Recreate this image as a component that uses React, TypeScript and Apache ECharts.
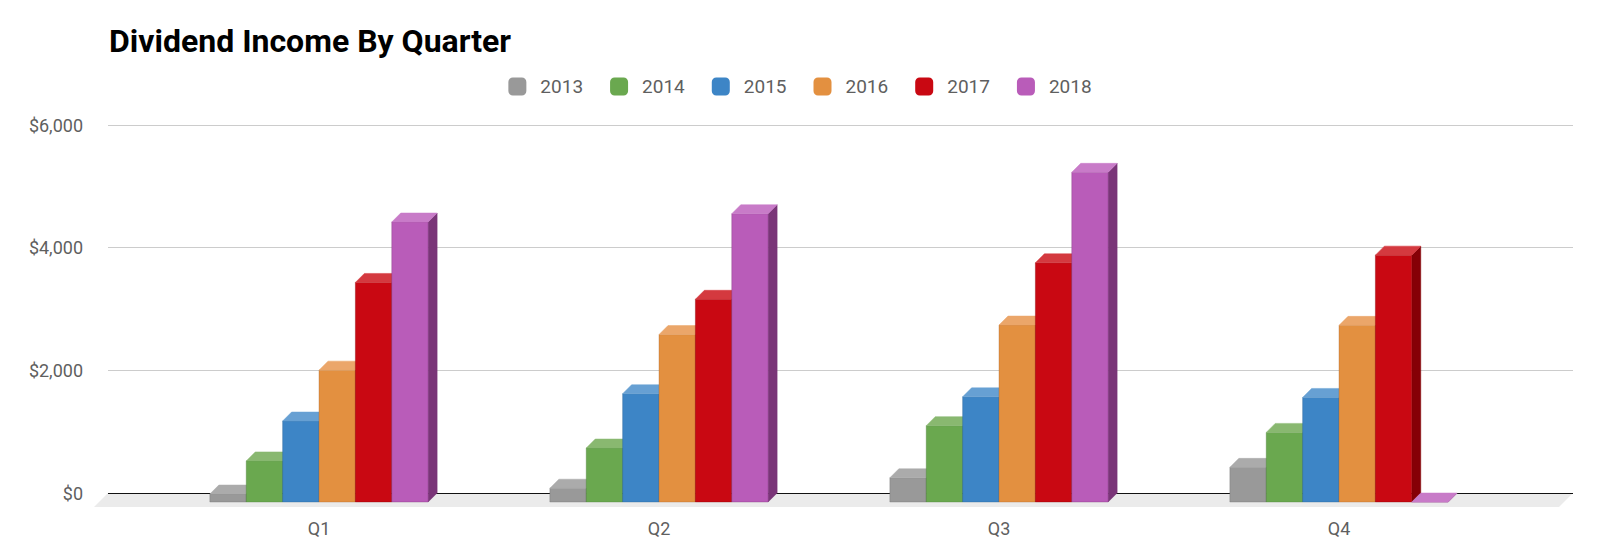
import React, { useEffect, useRef } from "react";
import * as echarts from "echarts";

const quarters = ["Q1", "Q2", "Q3", "Q4"];
const years = ["2013", "2014", "2015", "2016", "2017", "2018"];
const v2013 = [130, 225, 395, 565];
const v2014 = [670, 880, 1245, 1135];
const v2015 = [1320, 1765, 1715, 1705];
const v2016 = [2150, 2730, 2885, 2880];
const v2017 = [3580, 3305, 3900, 4025];
const v2018 = [4565, 4700, 5375, 0];
const seriesValues = [v2013, v2014, v2015, v2016, v2017, v2018];
const yTicks = [0, 2000, 4000, 6000];

const frontColors = ["#999999", "#6aa84f", "#3d85c6", "#e39040", "#c90812", "#b95cb9"];
const topColors = ["#ababab", "#89b870", "#67a0d3", "#eba66a", "#d4393f", "#c87bc8"];
const sideColors = ["#6c6c6c", "#4a7a37", "#2a5f8f", "#a8692e", "#850006", "#7a3578"];

const W = 1600;
const H = 560;
const DEPTH = 9; // bar depth offset
const FLOOR = 14; // floor depth
const BACK_LEFT = 108;
const BACK_RIGHT = 1573;
const BACK_TOP = 125;
const BACK_BOTTOM = 493;
const CAT_LEFT = 149;
const CAT_WIDTH = 1360;
const GROUP_RATIO = 0.642;
const FONT = "Roboto, 'Noto Sans', sans-serif";

export default function App() {
  const ref = useRef<HTMLDivElement>(null);

  useEffect(() => {
    if (!ref.current) return;
    const chart = echarts.init(ref.current, undefined, { renderer: "svg" });
    const n = years.length;

    const series = years.map((name, i) => ({
      type: "custom",
      name,
      xAxisIndex: 1,
      yAxisIndex: 1,
      z: 3,
      itemStyle: { color: frontColors[i] },
      data: quarters.map((_, qi) => [qi, seriesValues[i][qi]]),
      renderItem: (params: any, api: any) => {
        const ci = api.value(0);
        const v = api.value(1);
        const base = api.coord([ci, 0]);
        const topPt = api.coord([ci, v]);
        const catW = api.size([1, 0])[0];
        const bw = (catW * GROUP_RATIO) / n;
        const l = base[0] - (n / 2) * bw + i * bw;
        const r = l + bw;
        const b = base[1];
        const t = topPt[1];
        const d = DEPTH;
        return {
          type: "group",
          children: [
            {
              type: "polygon",
              shape: { points: [[r, t], [r + d, t - d], [r + d, b - d], [r, b]] },
              style: { fill: sideColors[i], stroke: sideColors[i], lineWidth: 0.5 },
            },
            {
              type: "rect",
              shape: { x: l, y: t, width: bw, height: b - t },
              style: { fill: frontColors[i], stroke: sideColors[i], lineWidth: 0.6, strokeOpacity: 0.6 },
            },
            {
              type: "polygon",
              shape: { points: [[l, t], [r, t], [r + d, t - d], [l + d, t - d]] },
              style: { fill: topColors[i], stroke: topColors[i], lineWidth: 0.5 },
            },
          ],
        };
      },
    }));

    const option: any = {
      animation: false,
      backgroundColor: "#ffffff",
      textStyle: { fontFamily: FONT },
      title: {
        text: "Dividend Income By Quarter",
        left: 104,
        top: 20,
        textStyle: { fontFamily: FONT, fontSize: 32, fontWeight: "bold", color: "#000000" },
      },
      legend: {
        data: years,
        top: 72,
        left: "center",
        icon: "roundRect",
        itemWidth: 18,
        itemHeight: 18,
        itemGap: 27,
        textStyle: { fontFamily: FONT, fontSize: 19, color: "#5f5f5f", padding: [0, 0, 0, 9] },
      },
      grid: [
        {
          left: BACK_LEFT,
          top: BACK_TOP,
          width: BACK_RIGHT - BACK_LEFT,
          height: BACK_BOTTOM - BACK_TOP,
        },
        {
          left: CAT_LEFT,
          top: BACK_TOP + DEPTH,
          width: CAT_WIDTH,
          height: BACK_BOTTOM - BACK_TOP,
        },
      ],
      xAxis: [
        { type: "value", gridIndex: 0, min: 0, max: 1, show: false },
        {
          type: "category",
          gridIndex: 1,
          data: quarters,
          axisLine: { show: false },
          axisTick: { show: false },
          axisLabel: { fontFamily: FONT, fontSize: 18, color: "#5f5f5f", margin: 17 },
          splitLine: { show: false },
        },
      ],
      yAxis: [
        {
          type: "value",
          gridIndex: 0,
          min: yTicks[0],
          max: yTicks[yTicks.length - 1],
          interval: yTicks[1] - yTicks[0],
          axisLine: { show: false },
          axisTick: { show: false },
          axisLabel: {
            fontFamily: FONT,
            fontSize: 18,
            color: "#5f5f5f",
            margin: 25,
            formatter: (val: number) => "$" + val.toLocaleString("en-US"),
          },
          splitLine: { lineStyle: { color: ["#111111", "#cccccc", "#cccccc", "#cccccc"], width: 1.2 } },
        },
        {
          type: "value",
          gridIndex: 1,
          min: yTicks[0],
          max: yTicks[yTicks.length - 1],
          show: false,
          splitLine: { show: false },
        },
      ],
      graphic: [
        {
          type: "polygon",
          z: -10,
          silent: true,
          shape: {
            points: [
              [BACK_LEFT, BACK_BOTTOM],
              [BACK_RIGHT, BACK_BOTTOM],
              [BACK_RIGHT - FLOOR, BACK_BOTTOM + FLOOR],
              [BACK_LEFT - FLOOR, BACK_BOTTOM + FLOOR],
            ],
          },
          style: { fill: "#ebebeb" },
        },
      ],
      series,
    };

    chart.setOption(option);
    return () => chart.dispose();
  }, []);

  return (
    <div
      ref={ref}
      style={{ position: "absolute", left: 0, top: 0, width: W, height: H, background: "#fff" }}
    />
  );
}
